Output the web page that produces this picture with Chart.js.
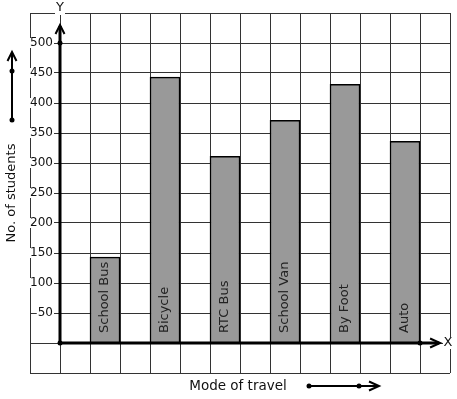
<!DOCTYPE html>
<html>
<head>
<meta charset="utf-8">
<script src="https://cdn.jsdelivr.net/npm/chart.js@4.4.0/dist/chart.umd.min.js"></script>
<style>
  html, body { margin: 0; padding: 0; background: #fff; }
  canvas { display: block; }
</style>
</head>
<body>
<canvas id="travelChart" width="457" height="399"></canvas>
<script>
// data (1 square = 50 students)
var modes = ['School Bus', 'Bicycle', 'RTC Bus', 'School Van', 'By Foot', 'Auto'];
var students = [143, 443, 311, 371, 431, 336];
var yTicks = [50, 100, 150, 200, 250, 300, 350, 400, 450, 500];
var yTitle = 'No. of students';
var xTitle = 'Mode of travel';

var FONT = 'DejaVu Sans';

// bars sit on every other square, starting one square right of the y axis
var points = modes.map(function (m, i) {
    return { x: 1.5 + i * 2, y: students[i] };
});

function arrowHead(c, x, y, dx, dy, len, half) {
    // chevron pointing in direction (dx, dy)
    var px = -dy, py = dx;
    c.beginPath();
    c.moveTo(x - dx * len + px * half, y - dy * len + py * half);
    c.lineTo(x, y);
    c.lineTo(x - dx * len - px * half, y - dy * len - py * half);
    c.stroke();
}

function dot(c, x, y, r) {
    c.beginPath();
    c.arc(x, y, r, 0, Math.PI * 2);
    c.fill();
}

// tick labels sit left of the y axis (value 0), over the grid with a white patch
const axisLabels = {
    id: 'axisLabels',
    beforeDatasetsDraw(chart) {
        const c = chart.ctx;
        const xs = chart.scales.x, ys = chart.scales.y;
        const ox = xs.getPixelForValue(0);
        c.save();
        c.font = '12px "' + FONT + '"';
        c.textAlign = 'right';
        c.textBaseline = 'middle';
        yTicks.forEach(function (v) {
            const y = ys.getPixelForValue(v);
            const s = String(v);
            const w = c.measureText(s).width;
            c.fillStyle = '#fff';
            c.fillRect(ox - 7 - w - 1, y - 5, w + 2, 10);
            c.fillStyle = '#111';
            c.fillText(s, ox - 7, y);
        });
        c.restore();
    }
};

const decorations = {
    id: 'decorations',
    afterDatasetsDraw(chart) {
        const c = chart.ctx;
        const xs = chart.scales.x, ys = chart.scales.y;
        const ox = xs.getPixelForValue(0), oy = ys.getPixelForValue(0);
        const area = chart.chartArea;

        c.save();

        // labels written up the inside of each bar
        c.fillStyle = '#222';
        c.font = '13px "' + FONT + '"';
        c.textAlign = 'left';
        c.textBaseline = 'middle';
        chart.getDatasetMeta(0).data.forEach(function (bar, i) {
            c.save();
            c.translate(bar.x, oy - 10);
            c.rotate(-Math.PI / 2);
            c.fillText(modes[i], 0, 0);
            c.restore();
        });

        // main axes
        c.strokeStyle = '#000';
        c.fillStyle = '#000';
        c.lineWidth = 3;
        c.lineCap = 'butt';
        const yTop = ys.getPixelForValue(530);
        const xEnd = xs.getPixelForValue(12.67);
        c.beginPath();
        c.moveTo(ox, oy);
        c.lineTo(ox, yTop + 1);
        c.moveTo(ox, oy);
        c.lineTo(xEnd - 1, oy);
        c.stroke();
        c.lineWidth = 2;
        arrowHead(c, ox, yTop, 0, -1, 9, 4.5);
        arrowHead(c, xEnd, oy, 1, 0, 10, 4.5);
        dot(c, ox, oy, 2.5);
        dot(c, ox, ys.getPixelForValue(500), 2.5);
        dot(c, xs.getPixelForValue(12), oy, 2.5);

        // axis letters with white patches over the grid
        c.font = '13px "' + FONT + '"';
        c.textAlign = 'center';
        c.textBaseline = 'middle';
        c.fillStyle = '#fff';
        c.fillRect(ox - 5, area.top - 2, 10, 4);
        c.fillRect(443, oy - 6, 10, 12);
        c.fillStyle = '#111';
        c.fillText('Y', ox, area.top - 5);
        c.fillText('X', 448, oy);

        // axis titles
        c.font = '13.5px "' + FONT + '"';
        c.fillText(xTitle, 238, 386);
        c.font = '13px "' + FONT + '"';
        c.save();
        c.translate(12, 193);
        c.rotate(-Math.PI / 2);
        c.fillText(yTitle, 0, 0);
        c.restore();

        // little direction arrows beside the titles
        c.strokeStyle = '#000';
        c.fillStyle = '#000';
        c.lineWidth = 2;
        c.beginPath();
        c.moveTo(12, 120);
        c.lineTo(12, 53);
        c.moveTo(309, 386);
        c.lineTo(378, 386);
        c.stroke();
        arrowHead(c, 12, 52, 0, -1, 9, 4.5);
        arrowHead(c, 379, 386, 1, 0, 10, 4.5);
        dot(c, 12, 120, 2.5);
        dot(c, 12, 71, 2.5);
        dot(c, 309, 386, 2.5);
        dot(c, 359, 386, 2.5);

        c.restore();
    }
};

var ctx = document.getElementById('travelChart');

const travelChart = new Chart(ctx, {
    type: 'bar',
    data: {
        datasets: [{
            label: yTitle,
            data: points,
            backgroundColor: '#999999',
            borderColor: '#000000',
            borderWidth: 1.5,
            barThickness: 30
        }]
    },
    options: {
        responsive: false,
        animation: false,
        layout: {
            padding: { left: 30, right: 7, top: 13, bottom: 26 }
        },
        plugins: {
            legend: { display: false },
            tooltip: { enabled: false }
        },
        scales: {
            x: {
                type: 'linear',
                position: 'bottom',
                offset: false,
                min: -1,
                max: 13,
                grid: { color: '#333', lineWidth: 1, drawTicks: false, offset: false },
                border: { display: false },
                ticks: { display: false, stepSize: 1 }
            },
            y: {
                type: 'linear',
                position: 'left',
                min: -50,
                max: 550,
                grid: { color: '#333', lineWidth: 1, drawTicks: false },
                border: { display: false },
                ticks: { display: false, stepSize: 50 }
            }
        }
    },
    plugins: [axisLabels, decorations]
});
</script>
</body>
</html>
